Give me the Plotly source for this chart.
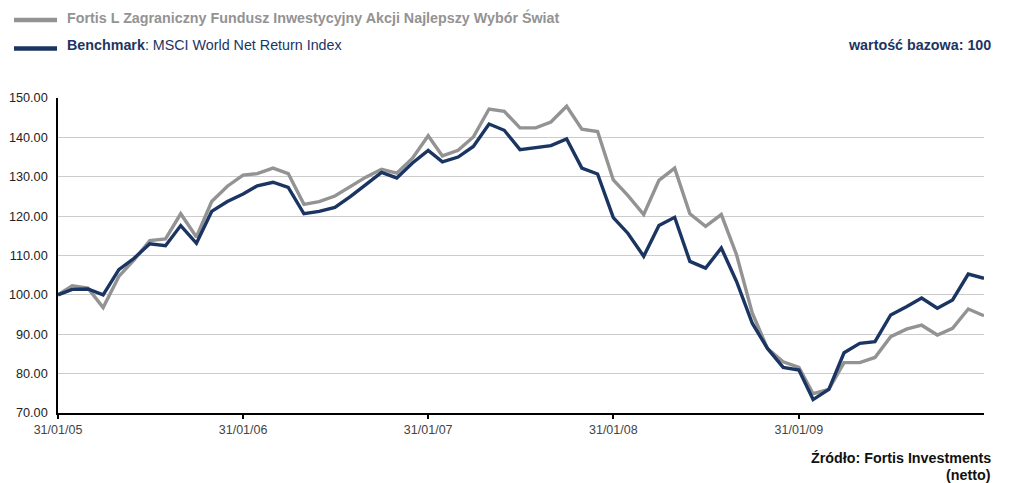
import pandas as pd
import plotly.graph_objects as go

dates = pd.date_range("2005-01-31", periods=61, freq="ME")

fund = [100.0, 102.3, 101.7, 96.8, 104.7, 108.9, 113.8, 114.2, 120.6, 114.7, 123.7, 127.6,
        130.4, 130.8, 132.2, 130.8, 123.0, 123.7, 125.1, 127.5, 129.9, 131.9, 130.9, 134.7,
        140.4, 135.3, 136.7, 140.1, 147.2, 146.6, 142.4, 142.4, 143.9, 147.9, 142.1, 141.5,
        129.2, 125.2, 120.4, 129.1, 132.2, 120.6, 117.4, 120.4, 110.2, 95.4, 86.4, 83.0,
        81.6, 74.9, 76.0, 82.8, 82.8, 84.1, 89.4, 91.3, 92.3, 89.8, 91.5, 96.4, 94.7]

bench = [100.0, 101.4, 101.5, 100.0, 106.4, 109.3, 113.0, 112.5, 117.6, 113.1, 121.2, 123.7,
         125.6, 127.7, 128.6, 127.3, 120.6, 121.2, 122.2, 125.0, 128.0, 131.1, 129.7, 133.5,
         136.7, 133.8, 135.0, 137.7, 143.4, 141.8, 136.9, 137.3, 137.9, 139.6, 132.2, 130.7,
         119.6, 115.6, 109.8, 117.6, 119.7, 108.5, 106.8, 111.9, 103.4, 92.8, 86.4, 81.6,
         80.9, 73.4, 76.0, 85.3, 87.7, 88.1, 94.9, 97.0, 99.2, 96.6, 98.7, 105.3, 104.2]

tick_dates = ["2005-01-31", "2006-01-31", "2007-01-31", "2008-01-31", "2009-01-31"]
tick_labels = ["31/01/05", "31/01/06", "31/01/07", "31/01/08", "31/01/09"]
y_ticks = [70, 80, 90, 100, 110, 120, 130, 140, 150]

fund_name = "Fortis L Zagraniczny Fundusz Inwestycyjny Akcji Najlepszy Wybór Świat"
bench_name = "<b>Benchmark</b>: MSCI World Net Return Index"

GRAY = "#939393"
NAVY = "#1b3563"
FONT = "Liberation Sans, Arial, sans-serif"

# plot area in page pixels: left 58, top 98, width 926, height 315
PL, PB, PW, PH = 58, 413, 926, 315


def px(x):
    return (x - PL) / PW


def py(y):
    return (PB - y) / PH


fig = go.Figure()
fig.add_trace(go.Scatter(x=dates, y=fund, mode="lines", line=dict(color=GRAY, width=3.4),
                         showlegend=False, name="fund"))
fig.add_trace(go.Scatter(x=dates, y=bench, mode="lines", line=dict(color=NAVY, width=3.4),
                         showlegend=False, name="benchmark"))

fig.update_layout(
    width=1004, height=475,
    margin=dict(l=50, r=28, t=90, b=70),
    paper_bgcolor="white", plot_bgcolor="white",
    font=dict(family=FONT, color="#333333"),
    xaxis=dict(range=[dates[0], dates[-1]], tickvals=tick_dates, ticktext=tick_labels,
               showgrid=False, showline=True, linecolor="#000000", linewidth=1.5,
               ticks="outside", ticklen=4, tickwidth=1.5, tickcolor="#000000",
               ticklabelstandoff=0, automargin=False,
               tickfont=dict(size=12.5, color="#444444"), zeroline=False),
    yaxis=dict(range=[70, 150], tickvals=y_ticks, tickformat=".2f",
               showgrid=True, gridcolor="#cccccc", gridwidth=1,
               showline=True, linecolor="#000000", linewidth=1.5,
               ticks="", ticklabelstandoff=6, automargin=False,
               tickfont=dict(size=12.7, color="#222222"), zeroline=False),
    shapes=[
        dict(type="line", xref="paper", yref="paper", x0=px(14), x1=px(57),
             y0=py(20), y1=py(20), line=dict(color=GRAY, width=4.5)),
        dict(type="line", xref="paper", yref="paper", x0=px(14), x1=px(57),
             y0=py(48.5), y1=py(48.5), line=dict(color=NAVY, width=4.5)),
    ],
    annotations=[
        dict(text="<b>" + fund_name + "</b>", xref="paper", yref="paper",
             x=px(65), y=py(17), xanchor="left", yanchor="middle",
             showarrow=False, font=dict(size=14.3, color=GRAY, family=FONT)),
        dict(text=bench_name, xref="paper", yref="paper",
             x=px(65), y=py(45), xanchor="left", yanchor="middle",
             showarrow=False, font=dict(size=14.3, color=NAVY, family=FONT)),
        dict(text="<b>wartość bazowa: 100</b>", xref="paper", yref="paper",
             x=px(993), y=py(45), xanchor="right", yanchor="middle",
             showarrow=False, font=dict(size=14.3, color=NAVY, family=FONT)),
        dict(text="<b>Źródło: Fortis Investments</b>", xref="paper", yref="paper",
             x=px(993), y=py(458), xanchor="right", yanchor="middle",
             showarrow=False, font=dict(size=14.3, color="#111111", family=FONT)),
        dict(text="<b>(netto)</b>", xref="paper", yref="paper",
             x=px(993), y=py(475), xanchor="right", yanchor="middle",
             showarrow=False, font=dict(size=14.3, color="#111111", family=FONT)),
    ],
)

fig.write_html("out.html")
